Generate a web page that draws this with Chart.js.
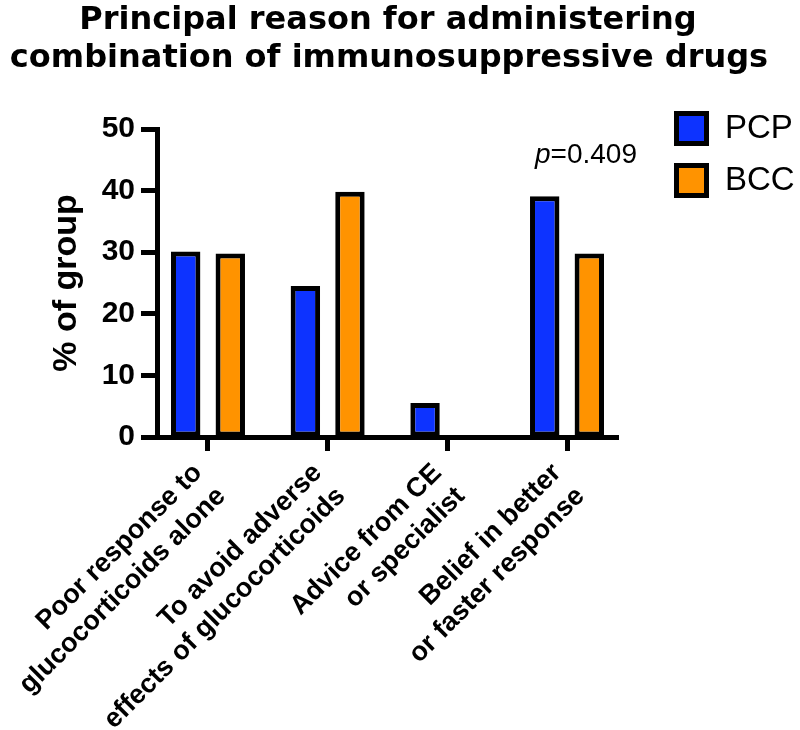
<!DOCTYPE html>
<html>
<head>
<meta charset="utf-8">
<script src="https://cdn.jsdelivr.net/npm/chart.js@4.4.1/dist/chart.umd.min.js"></script>
<style>
  html, body { margin: 0; padding: 0; background: #fff; }
</style>
</head>
<body>
<canvas id="myChart" width="800" height="730"></canvas>
<script>
  // data
  const categories = [
    ['Poor response to', 'glucocorticoids alone'],
    ['To avoid adverse', 'effects of glucocorticoids'],
    ['Advice from CE', 'or specialist'],
    ['Belief in better', 'or faster response']
  ]
  const seriesNames = ['PCP', 'BCC']
  const pcpValues = [30.1, 24.5, 5.5, 39.1]
  const bccValues = [29.8, 39.8, 0, 29.8]
  const yTicks = [0, 10, 20, 30, 40, 50]
  const chartTitle = ['Principal reason for administering', 'combination of immunosuppressive drugs']
  const yTitle = '% of group'
  const pValue = '0.409'

  const WIDE = '"DejaVu Sans", sans-serif'
  const ARIAL = '"Liberation Sans", Arial, sans-serif'

  // title, legend and p value drawn on top
  const extras = {
    id: 'extras',
    afterDraw(chart) {
      const ctx = chart.ctx
      ctx.save()
      ctx.fillStyle = '#000'
      ctx.textAlign = 'center'
      ctx.textBaseline = 'alphabetic'
      ctx.font = 'bold 32px ' + WIDE
      ctx.fillText(chartTitle[0], 388, 29)
      ctx.fillText(chartTitle[1], 389, 67)

      ctx.textAlign = 'left'
      ctx.font = '33px ' + ARIAL
      chart.data.datasets.forEach((ds, i) => {
        const top = 111 + i * 52
        ctx.fillStyle = ds.backgroundColor
        ctx.fillRect(674, top, 35, 35)
        ctx.lineWidth = 5
        ctx.strokeStyle = '#000'
        ctx.strokeRect(676.5, top + 2.5, 30, 30)
        ctx.fillStyle = '#000'
        ctx.fillText(ds.label, 725, top + 27)
      })

      ctx.font = 'italic 28px ' + ARIAL
      ctx.fillText('p', 535, 163)
      const w = ctx.measureText('p').width
      ctx.font = '28px ' + ARIAL
      ctx.fillText('=' + pValue, 535 + w, 163)
      ctx.restore()
    }
  }

  const ctx = document.getElementById('myChart')
  // eslint-disable-next-line no-unused-vars
  const myChart = new Chart(ctx, {
    type: 'bar',
    data: {
      datasets: [{
        label: seriesNames[0],
        data: pcpValues.map((v, i) => ({ x: i, y: v })),
        backgroundColor: '#0d33ff',
        borderColor: '#000',
        borderWidth: 5,
        borderSkipped: false
      }, {
        label: seriesNames[1],
        data: bccValues.map((v, i) => ({ x: i, y: v })),
        backgroundColor: '#ff9300',
        borderColor: '#000',
        borderWidth: 5,
        borderSkipped: false
      }]
    },
    options: {
      responsive: false,
      animation: false,
      categoryPercentage: 0.745,
      barPercentage: 0.66,
      layout: {
        padding: { top: 129, right: 182, bottom: 0, left: 0 }
      },
      plugins: {
        legend: { display: false },
        title: { display: false },
        tooltip: { enabled: false }
      },
      scales: {
        x: {
          type: 'linear',
          offset: false,
          min: -0.426,
          max: 3.426,
          afterBuildTicks: (scale) => {
            scale.ticks = categories.map((c, i) => ({ value: i }))
          },
          afterFit: (scale) => {
            scale.height = 293
            scale.paddingLeft = 0
            scale.paddingRight = 0
          },
          grid: {
            offset: false,
            drawOnChartArea: false,
            tickLength: 14,
            tickWidth: 5,
            tickColor: '#000'
          },
          border: { color: '#000', width: 5 },
          ticks: {
            autoSkip: false,
            minRotation: 45,
            maxRotation: 45,
            padding: 6,
            labelOffset: -10,
            color: '#000',
            font: { family: ARIAL, size: 27, weight: 'bold', lineHeight: '33px' },
            callback: (value) => categories[value]
          }
        },
        y: {
          min: 0,
          max: 50,
          afterBuildTicks: (scale) => {
            scale.ticks = yTicks.map(v => ({ value: v }))
          },
          afterFit: (scale) => {
            scale.width = 157
          },
          grid: {
            drawOnChartArea: false,
            tickLength: 16,
            tickWidth: 5,
            tickColor: '#000'
          },
          border: { color: '#000', width: 5 },
          ticks: {
            padding: 6,
            color: '#000',
            font: { family: ARIAL, size: 30, weight: 'bold' }
          },
          title: {
            display: true,
            text: yTitle,
            color: '#000',
            padding: { top: 46, bottom: 0 },
            font: { family: ARIAL, size: 34, weight: 'bold' }
          }
        }
      }
    },
    plugins: [extras]
  })
</script>
</body>
</html>
